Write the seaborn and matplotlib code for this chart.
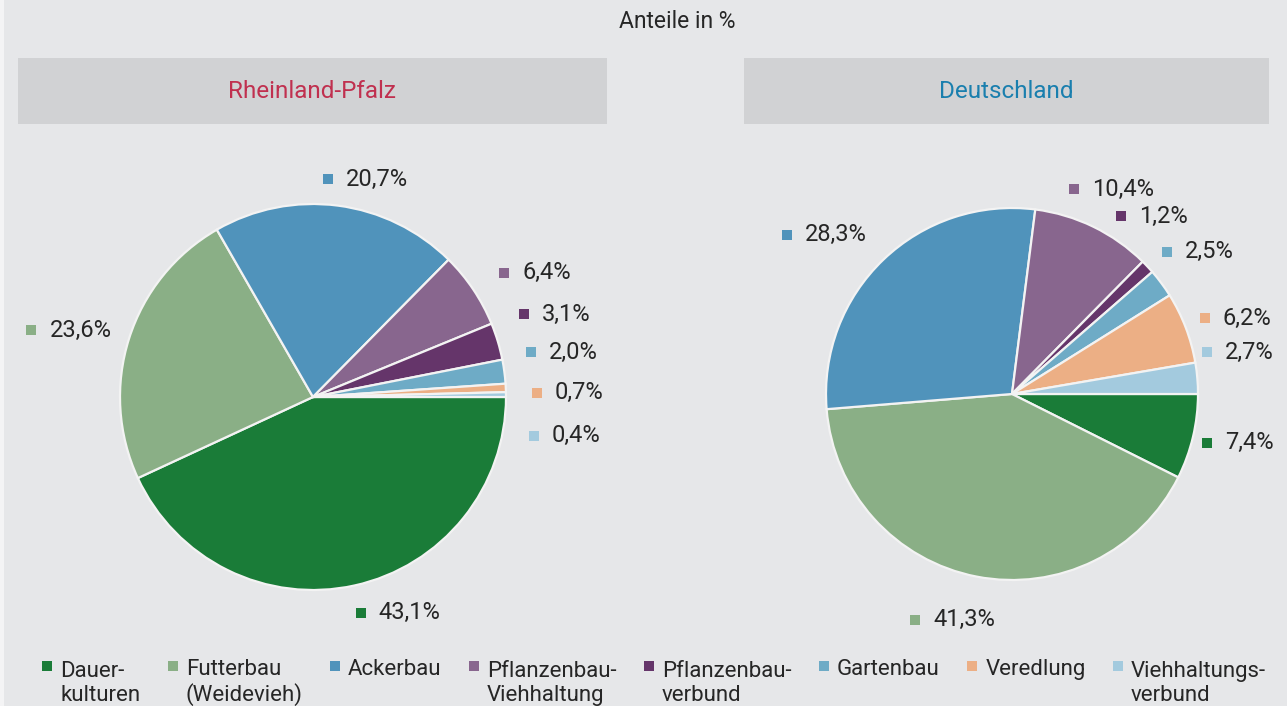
import matplotlib
matplotlib.use("Agg")
import matplotlib.pyplot as plt
from matplotlib.patches import Rectangle
import seaborn as sns

# Categories (farm types) and their shares in percent
categories = [
    "Dauer-\nkulturen",
    "Futterbau\n(Weidevieh)",
    "Ackerbau",
    "Pflanzenbau-\nViehhaltung",
    "Pflanzenbau-\nverbund",
    "Gartenbau",
    "Veredlung",
    "Viehhaltungs-\nverbund",
]
shares_rlp = [43.1, 23.6, 20.7, 6.4, 3.1, 2.0, 0.7, 0.4]
shares_de = [7.4, 41.3, 28.3, 10.4, 1.2, 2.5, 6.2, 2.7]
regions = ["Rheinland-Pfalz", "Deutschland"]
title = "Anteile in %"

colors = sns.color_palette([
    "#1a7c38", "#8aaf86", "#5093bb", "#88668e",
    "#65356a", "#6eabc6", "#ecaf85", "#a3cade",
])

# Layout (pixel coordinates, y measured upwards)
W, H = 1287, 706
BG = "#e6e7e9"
TEXT = "#262626"
FONT = "Roboto"
pies = [
    dict(center=(313, H - 397), radius=193, box=(18, 607),
         head_color="#c0304f",
         # label anchors in units of the radius, relative to the centre
         anchors=[(0.247, -1.119), (-1.459, 0.345), (0.077, 1.129), (0.99, 0.644),
                  (1.093, 0.428), (1.129, 0.232), (1.16, 0.021), (1.144, -0.201)]),
    dict(center=(1012, H - 394), radius=186, box=(744, 1269),
         head_color="#1a7fae",
         anchors=[(1.048, -0.262), (-0.519, -1.214), (-1.209, 0.856), (0.332, 1.102),
                  (0.588, 0.957), (0.834, 0.765), (1.037, 0.406), (1.048, 0.225)]),
]

sns.set_theme(style="white", rc={"figure.facecolor": BG, "axes.facecolor": BG})
plt.rcParams["font.family"] = [FONT, "DejaVu Sans"]

fig = plt.figure(figsize=(W / 100, H / 100), dpi=100)
ax = fig.add_axes([0, 0, 1, 1])
ax.set_facecolor(BG)

# thin light strip along the left border
ax.add_patch(Rectangle((0, 0), 4, H, color="#f4f4f5", lw=0, zorder=0))

ax.text(W / 2 + 34, H - 22, title, ha="center", va="center", fontsize=16.5, color=TEXT)

for region, shares, cfg in zip(regions, [shares_rlp, shares_de], pies):
    x0, x1 = cfg["box"]
    ax.add_patch(Rectangle((x0, H - 124), x1 - x0, 66, color="#d1d2d4", lw=0, zorder=1))
    ax.text((x0 + x1) / 2, H - 91, region, ha="center", va="center",
            fontsize=17.5, color=cfg["head_color"], zorder=2)

    cx, cy = cfg["center"]
    r = cfg["radius"]
    ax.pie(shares, colors=colors, startangle=0, counterclock=False,
           center=(cx, cy), radius=r,
           wedgeprops=dict(edgecolor="#f3f3f3", linewidth=1.6))

    for val, col, (ux, uy) in zip(shares, colors, cfg["anchors"]):
        mx, my = cx + ux * r, cy + uy * r
        ax.scatter([mx], [my], marker="s", s=58, color=col, linewidths=0, zorder=5)
        ax.text(mx + 18, my, f"{val:.1f}%".replace(".", ","), ha="left", va="center",
                fontsize=17, color=TEXT, zorder=5)

ax.set_xlim(0, W)
ax.set_ylim(0, H)
ax.set_aspect("auto")
ax.axis("off")

# Legend row: marker square + label whose first line sits beside the marker;
# items are spaced by the measured text width
renderer = fig.canvas.get_renderer()
x = 47
for label, col in zip(categories, colors):
    nlines = label.count("\n") + 1
    ax.scatter([x], [H - 666], marker="s", s=62, color=col, linewidths=0, zorder=5)
    t = ax.text(x + 13, H - 675 - 26 * (nlines - 1), label, ha="left", va="baseline",
                fontsize=16, color=TEXT, linespacing=1.2, zorder=5)
    bb = t.get_window_extent(renderer=renderer)
    x = bb.x1 + 32.5

fig.savefig("out.png", dpi=100, facecolor=BG)
